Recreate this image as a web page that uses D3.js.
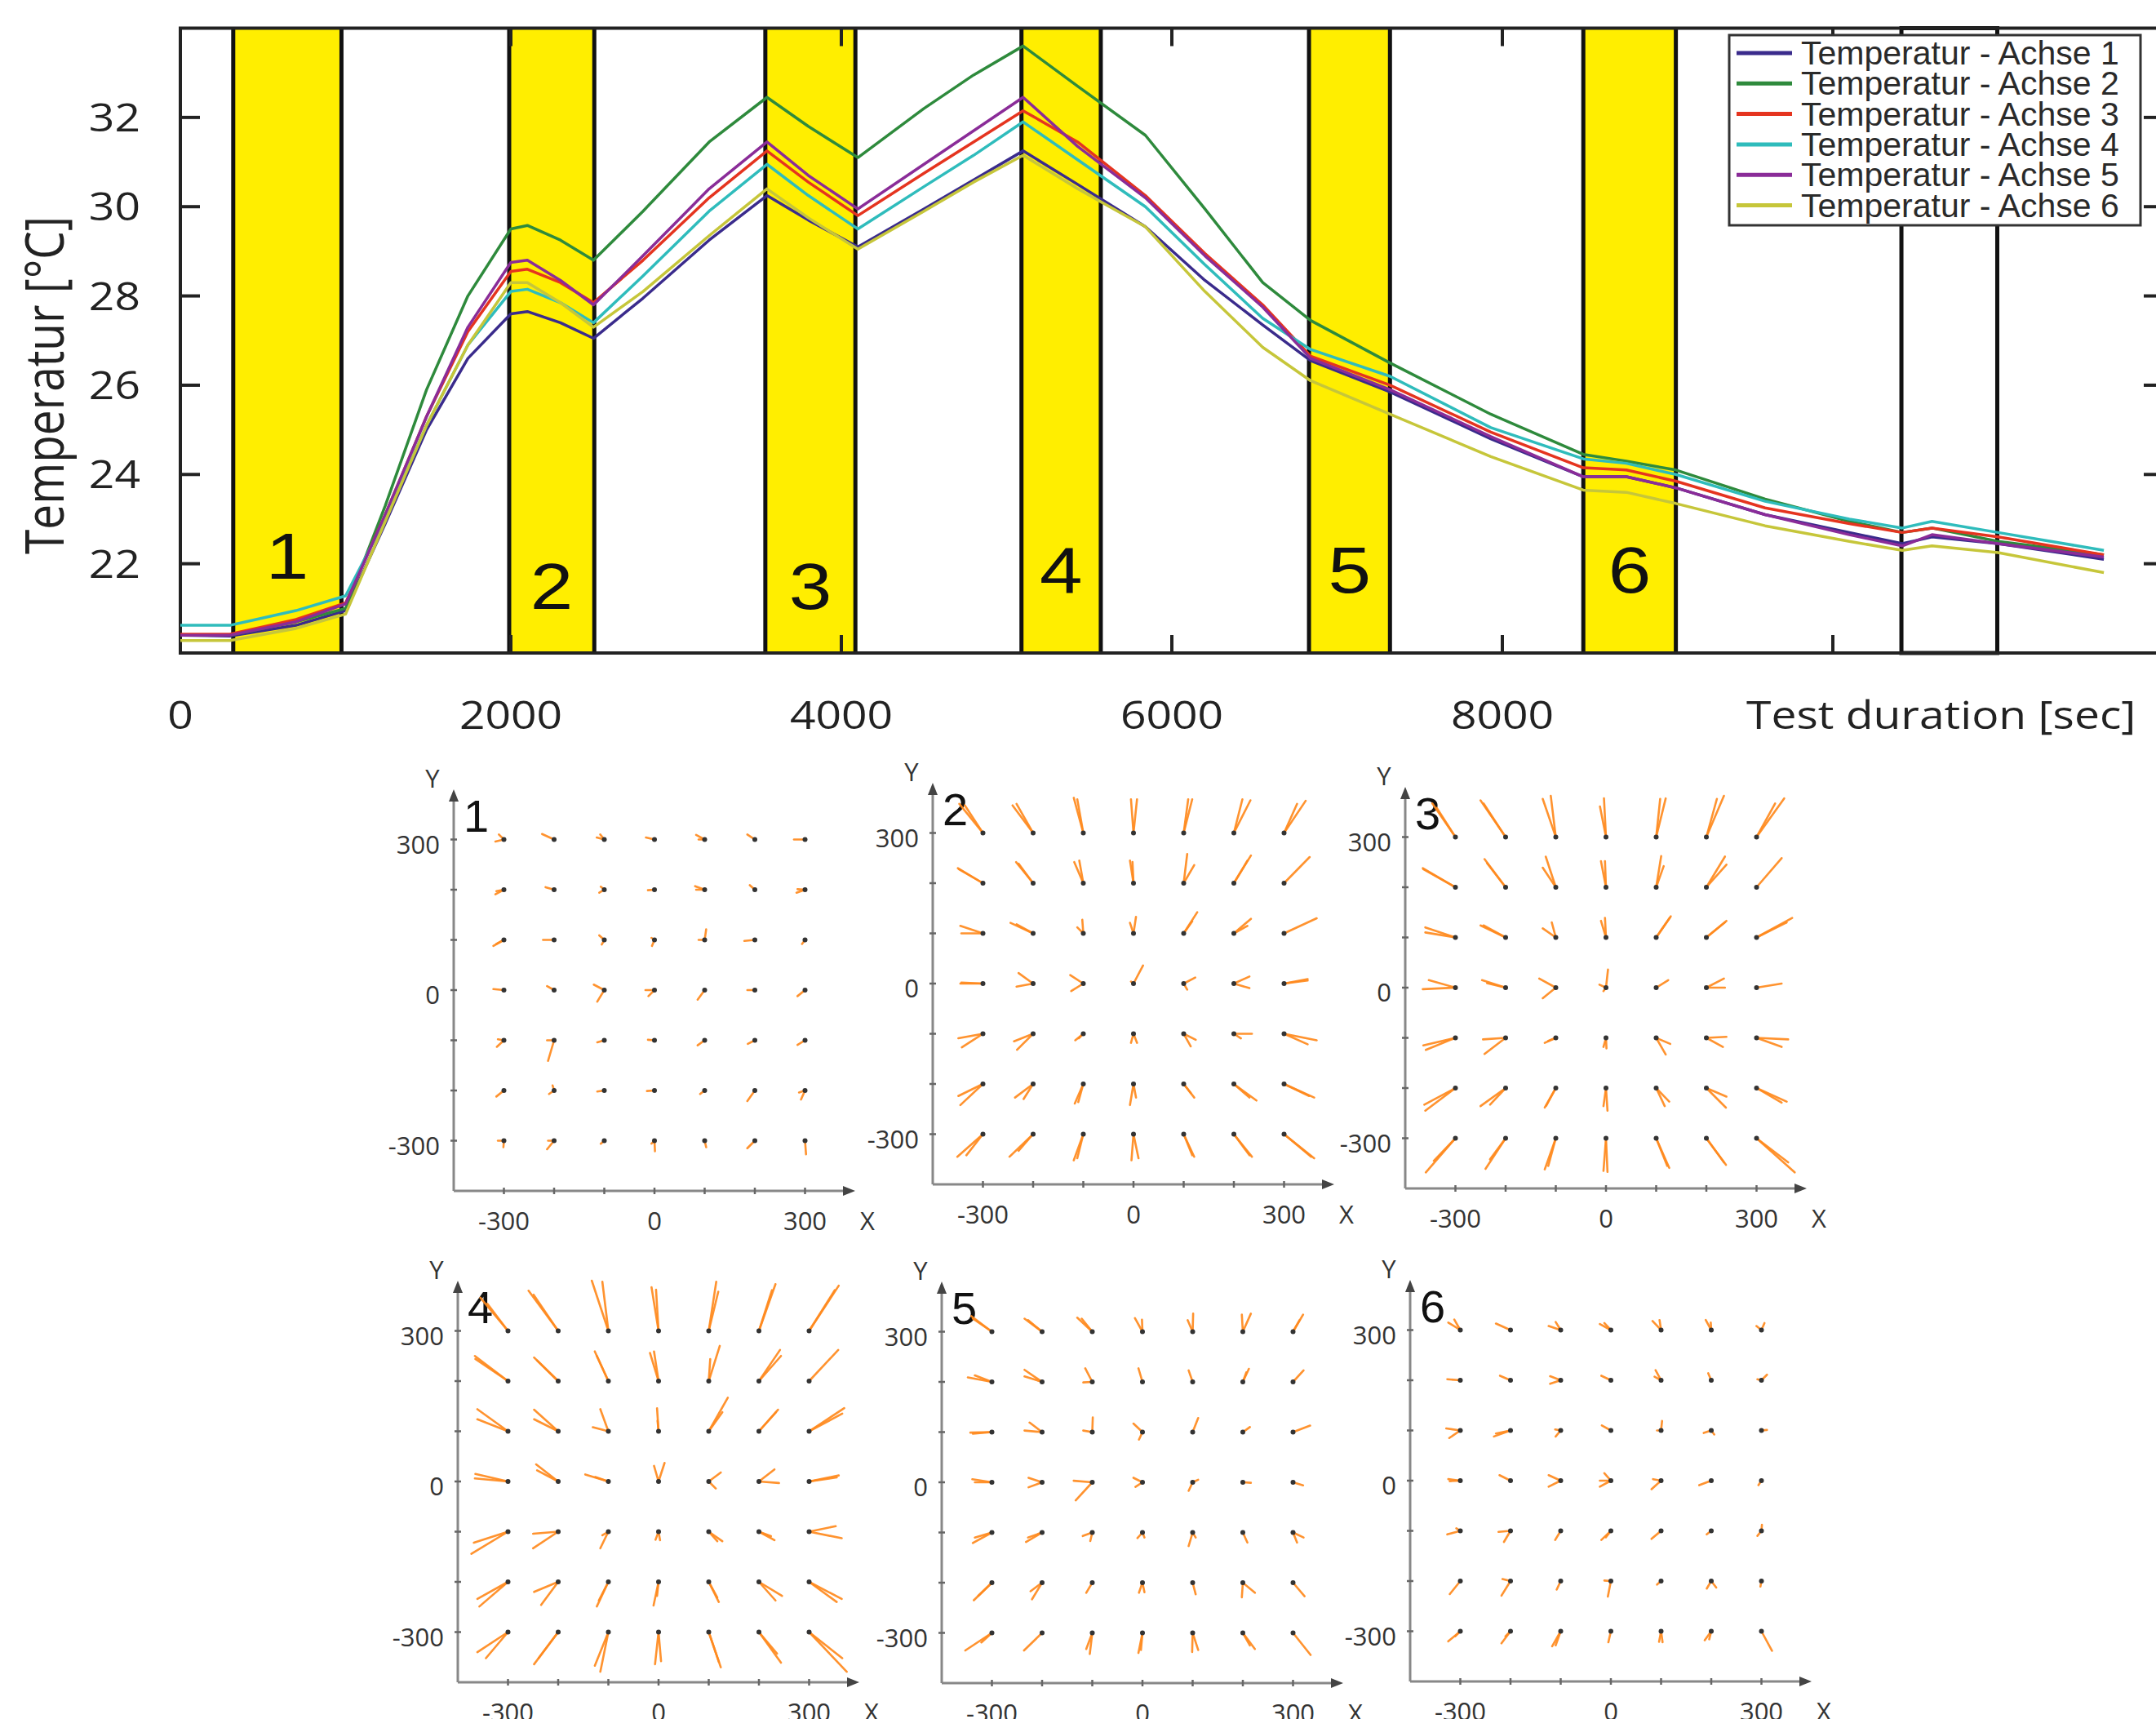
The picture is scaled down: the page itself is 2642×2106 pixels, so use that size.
<!DOCTYPE html>
<html>
<head>
<meta charset="utf-8">
<script src="https://cdn.jsdelivr.net/npm/d3@7"></script>
<style>
  body { margin: 0; background: #fff; }
  svg { display: block; background: #fff; }
</style>
</head>
<body>
<svg width="2642" height="2106"></svg>
<script>
// ---------- temperature chart data ----------
var timeKnots = [0, 300, 700, 1000, 1240, 1490, 1740, 2000, 2100, 2300, 2500, 2800, 3200, 3550, 3800, 4100, 4500, 4800, 5100,
                 5430, 5840, 6200, 6550, 6840, 7320, 7930, 8490, 8750, 9050, 9590, 10100, 10420, 10600, 11000, 11640];

var achse1 = [20.40, 20.38, 20.62, 20.95, 22.90, 25.00, 26.60, 27.60, 27.65, 27.40, 27.05, 27.95, 29.25, 30.25, 29.70, 29.10, 29.95, 30.60, 31.25,
              30.50, 29.55, 28.35, 27.35, 26.55, 25.85, 24.80, 23.95, 23.95, 23.70, 23.10, 22.70, 22.45, 22.60, 22.45, 22.10];
var achse2 = [20.40, 20.40, 20.70, 21.00, 23.30, 25.90, 28.00, 29.50, 29.58, 29.25, 28.80, 29.90, 31.45, 32.45, 31.80, 31.10, 32.20, 32.95, 33.60,
              32.70, 31.60, 29.95, 28.30, 27.45, 26.50, 25.35, 24.45, 24.30, 24.10, 23.45, 22.95, 22.70, 22.80, 22.50, 22.20];
var achse3 = [20.42, 20.42, 20.75, 21.12, 23.10, 25.30, 27.20, 28.55, 28.60, 28.30, 27.85, 28.80, 30.20, 31.25, 30.55, 29.80, 30.75, 31.45, 32.15,
              31.45, 30.25, 28.95, 27.80, 26.65, 26.00, 24.95, 24.15, 24.10, 23.85, 23.25, 22.90, 22.70, 22.80, 22.60, 22.20];
var achse4 = [20.62, 20.62, 20.95, 21.28, 23.00, 25.10, 26.90, 28.10, 28.15, 27.85, 27.40, 28.45, 29.90, 30.95, 30.25, 29.50, 30.45, 31.15, 31.90,
              31.05, 30.00, 28.70, 27.50, 26.80, 26.20, 25.05, 24.35, 24.25, 24.00, 23.40, 23.00, 22.80, 22.95, 22.70, 22.30];
var achse5 = [20.40, 20.40, 20.70, 21.10, 23.10, 25.30, 27.30, 28.75, 28.80, 28.35, 27.80, 28.90, 30.40, 31.45, 30.70, 29.95, 30.95, 31.70, 32.45,
              31.35, 30.20, 28.90, 27.75, 26.60, 25.90, 24.85, 23.95, 23.95, 23.70, 23.10, 22.65, 22.40, 22.65, 22.45, 22.15];
var achse6 = [20.28, 20.28, 20.55, 20.87, 22.95, 25.10, 26.90, 28.30, 28.30, 27.85, 27.30, 28.10, 29.35, 30.40, 29.75, 29.05, 29.90, 30.55, 31.15,
              30.40, 29.55, 28.10, 26.85, 26.10, 25.35, 24.40, 23.65, 23.60, 23.35, 22.85, 22.50, 22.30, 22.40, 22.25, 21.80];

var seriesNames = ["Temperatur - Achse 1", "Temperatur - Achse 2", "Temperatur - Achse 3",
                   "Temperatur - Achse 4", "Temperatur - Achse 5", "Temperatur - Achse 6"];
var seriesColors = ["#3a2b8c", "#2e8a3c", "#e5341f", "#2fbcbc", "#8a2c98", "#c6c63a"];

// measurement phases (sec)
var bandStart = [320, 1990, 3540, 5090, 6830, 8490];
var bandEnd = [975, 2505, 4085, 5570, 7320, 9050];
var bandLabels = ["1", "2", "3", "4", "5", "6"];
var bandLabelTemp = [21.66, 20.99, 20.99, 21.35, 21.35, 21.35];
var boxStart = 10415, boxEnd = 10995;

var xTicks = [0, 2000, 4000, 6000, 8000, 10000];
var xTickLabels = ["0", "2000", "4000", "6000", "8000", ""];
var yTicks = [22, 24, 26, 28, 30, 32];

// ---------- deformation panels: rows from y=300 down to y=-300, cols x=-300..300 ----------
var gridPos = [-300, -200, -100, 0, 100, 200, 300];
var panelTicks = [-300, 0, 300];

var panel1 = [
  [[[-17,-4],[-10,10]], [[-24,11]], [[-15,4],[-8,10]], [[-17,4]], [[-17,9],[-12,0]], [[-15,10]], [[-22,0]]],
  [[[-17,-9],[-15,-3]], [[-17,5]], [[-10,-6],[-7,6]], [[-13,-1]], [[-19,7],[-17,0]], [[-10,9]], [[-17,-6],[-15,1]]],
  [[[-21,-12],[-15,-8]], [[-22,0]], [[-10,9],[-5,-9]], [[-6,4],[-5,-12]], [[3,21],[-12,0]], [[-21,-2]], [[-6,-8]]],
  [[[-21,2]], [[-14,8]], [[-21,11],[-14,-23]], [[-18,0],[-12,-12]], [[-14,-19]], [[-15,0]], [[-15,-12]]],
  [[[-14,-13],[-12,2]], [[-12,-41],[-14,0]], [[-14,-4]], [[-13,1]], [[-14,-10]], [[-14,-7]], [[-15,-9]]],
  [[[-15,-12]], [[-10,-7],[-3,10]], [[-14,-2]], [[-15,-1]], [[-9,-7]], [[-15,-21]], [[-8,-18],[-12,-4]]],
  [[[-12,0],[-1,-13]], [[-14,-17],[-12,0]], [[-7,-6]], [[-6,-6],[1,-21]], [[3,-13]], [[-15,-15]], [[2,-27]]]
];
var panel2 = [
  [[[-47,58],[-36,55]], [[-41,55],[-33,58]], [[-19,70],[-12,67]], [[-5,67],[7,67]], [[9,67],[17,67]], [[17,67],[33,65]], [[26,58],[43,64]]],
  [[[-50,30],[-48,28]], [[-34,42],[-29,39]], [[-18,42],[-8,45]], [[-7,45],[-2,42]], [[7,58],[21,36]], [[34,55],[27,45]], [[51,52]]],
  [[[-45,15],[-43,0]], [[-45,21],[-33,18]], [[-12,12],[-2,27]], [[-7,21],[5,33]], [[27,42],[17,24]], [[34,29],[27,15]], [[65,30]]],
  [[[-45,0],[-43,2]], [[-29,21],[-33,-6]], [[-26,17],[-24,-15]], [[19,36],[-5,4]], [[23,12],[7,-12]], [[31,14],[31,-9]], [[47,9],[47,6]]],
  [[[-49,-9],[-42,-27]], [[-38,-15],[-32,-32]], [[-16,-13],[-9,-9]], [[-5,-18],[7,-18]], [[14,-25],[24,-12]], [[36,0],[14,-9]], [[65,-13],[47,-21]]],
  [[[-49,-24],[-45,-42]], [[-36,-27],[-19,-30]], [[-17,-39],[-10,-36]], [[-7,-42],[5,-27]], [[21,-27],[14,-18]], [[45,-33],[31,-27]], [[60,-27],[50,-24]]],
  [[[-51,-45],[-33,-42]], [[-47,-45],[-29,-33]], [[-19,-52],[-12,-48]], [[-4,-52],[10,-48]], [[21,-45],[17,-42]], [[36,-45],[31,-42]], [[60,-48],[54,-45]]]
];
var panel3 = [
  [[[-46,67],[-37,58]], [[-50,73],[-44,67]], [[-26,76],[-10,82]], [[-12,61],[-4,77]], [[8,76],[19,77]], [[21,76],[35,82]], [[37,67],[55,77]]],
  [[[-65,38],[-64,36]], [[-42,56],[-37,48]], [[-26,39],[-20,61]], [[-10,52],[-2,52]], [[10,62],[15,42]], [[37,61],[40,45]], [[50,58]]],
  [[[-60,20],[-60,10]], [[-50,24],[-44,24]], [[-26,18],[-8,30]], [[-10,33],[-2,39]], [[29,42],[27,39]], [[40,33],[37,30]], [[71,39],[60,30]]],
  [[[-65,-3],[-53,15]], [[-47,15],[-37,9]], [[-33,18],[-26,-21]], [[4,36],[-13,6],[-5,-7]], [[24,15]], [[35,18],[37,0]], [[50,8]]],
  [[[-64,-15],[-59,-24]], [[-45,-3],[-42,-32]], [[-22,-10],[-15,-6]], [[-5,-18],[1,-21]], [[19,-33],[28,-12]], [[40,2],[33,-18]], [[63,-3],[50,-18]]],
  [[[-62,-33],[-60,-45]], [[-50,-36],[-31,-33]], [[-22,-39],[-19,-35]], [[-5,-36],[3,-45]], [[17,-36],[26,-27]], [[39,-39],[40,-17]], [[60,-27],[50,-29]]],
  [[[-59,-68],[-43,-45]], [[-40,-61],[-31,-42]], [[-22,-62],[-15,-55]], [[-5,-65],[3,-67]], [[26,-59],[22,-55]], [[39,-53],[35,-48]], [[76,-68],[63,-48]]]
];
var panel4 = [
  [[[-55,66],[-41,54]], [[-59,80],[-49,72]], [[-33,100],[-12,98]], [[-14,87],[-5,82]], [[15,98],[19,78]], [[33,93],[26,81]], [[59,90],[51,81]]],
  [[[-66,50],[-65,44]], [[-48,47],[-42,41]], [[-27,59],[-23,50]], [[-17,56],[-9,59]], [[22,70],[3,44]], [[42,62],[44,50]], [[58,62]]],
  [[[-61,44],[-61,24]], [[-48,43],[-48,24]], [[-16,44],[-31,8]], [[-3,46],[-2,21]], [[38,67],[27,38]], [[38,43],[34,38]], [[70,46],[66,35]]],
  [[[-65,15],[-66,6]], [[-44,34],[-42,22]], [[-46,14],[-26,9]], [[12,37],[-9,31]], [[24,18],[14,-14]], [[31,24],[40,-3]], [[59,12],[55,8]]],
  [[[-73,-44],[-68,-22]], [[-50,-33],[-50,-4]], [[-16,-33],[-12,-7]], [[-6,-16],[3,-17]], [[27,-19],[17,-19]], [[31,-17],[24,-9]], [[65,-13],[53,11]]],
  [[[-61,-34],[-57,-49]], [[-48,-20],[-34,-46]], [[-23,-49],[-19,-37]], [[-10,-47],[-3,-28]], [[20,-40],[17,-31]], [[46,-28],[33,-37]], [[65,-34],[55,-40]]],
  [[[-61,-40],[-44,-52]], [[-48,-64],[-39,-52]], [[-27,-67],[-16,-79]], [[-7,-64],[5,-58]], [[24,-70],[20,-59]], [[44,-61],[36,-43]], [[75,-79],[66,-52]]]
];
var panel5 = [
  [[[-41,31],[-38,26]], [[-35,26],[-28,23]], [[-30,28],[-21,26]], [[-15,27],[-1,24]], [[-10,23],[1,36]], [[-2,34],[16,36]], [[20,34],[13,23]]],
  [[[-48,9],[-34,13]], [[-35,24],[-35,11]], [[-14,27],[-18,-1]], [[-8,27]], [[-8,23]], [[12,26],[7,19]], [[21,23]]],
  [[[-43,-1],[-38,-3]], [[-35,3],[-25,19]], [[-18,3],[1,29]], [[-18,17],[-7,-15]], [[11,28]], [[14,10]], [[34,13]]],
  [[[-39,6],[-34,0]], [[-27,9],[-27,-10]], [[-37,3],[-33,-36]], [[-18,9],[-14,-9]], [[-8,-17],[11,5]], [[16,-1]], [[20,-6]]],
  [[[-38,-21],[-34,-10]], [[-32,-19],[-28,-10]], [[-19,-7],[-4,-17]], [[-10,-11],[4,-10]], [[-8,-27],[6,-10]], [[9,-20]], [[8,-20],[21,-10]]],
  [[[-36,-35],[-27,-26]], [[-20,-33],[-23,-17]], [[-12,-20]], [[-7,-20],[4,-19]], [[6,-23]], [[-2,-29],[24,-20]], [[23,-27]]],
  [[[-53,-35],[-21,-19]], [[-36,-35]], [[-12,-32],[-5,-42]], [[-8,-40],[-3,-34]], [[-1,-38],[11,-34]], [[24,-32],[14,-25]], [[35,-44]]]
];
var panel6 = [
  [[[-24,15],[-12,21]], [[-29,13]], [[-24,8],[-10,16]], [[-22,12],[-13,14]], [[-17,18],[-3,20]], [[-11,20],[-1,15]], [[-10,8],[6,14]]],
  [[[-26,2]], [[-21,9]], [[-21,8],[-21,-7]], [[-19,9]], [[-11,20],[-13,7]], [[-6,14]], [[11,11],[-8,2]]],
  [[[-28,4],[-22,-15]], [[-33,-12],[-29,-6]], [[-11,2],[-10,-12]], [[-18,10]], [[2,19],[-8,0]], [[-15,-5],[6,-8]], [[11,1]]],
  [[[-24,3],[-21,-1]], [[-22,11]], [[-24,11],[-24,-12]], [[-22,-12],[-13,15],[-22,0]], [[-19,-17],[-16,3]], [[-24,-9]], [[-6,-9]]],
  [[[-26,-7],[-8,5]], [[-24,-2],[-13,-22]], [[-11,-18]], [[-19,-18],[-10,-13]], [[-19,-16]], [[-9,-7]], [[-8,-10],[1,12]]],
  [[[-21,-26]], [[-18,-29],[-16,4]], [[-8,-17]], [[-6,-31],[-13,1]], [[-8,-7]], [[-9,-15],[10,-13]], [[-2,-11]]],
  [[[-24,-20],[-10,-10]], [[-18,-24],[-10,-10]], [[-17,-30],[-10,-28]], [[-5,-22]], [[-4,-21],[3,-22]], [[-13,-18],[-4,-16]], [[21,-39]]]
];

var svg = d3.select("svg");

//Top chart scales
var x = d3.scaleLinear().domain([0, 12000]).range([221, 2651]);
var y = d3.scaleLinear().domain([20, 34]).range([800, 34.5]);

var chart = svg.append("g");

//yellow phases
bandStart.forEach(function (s, i) {
    chart.append("rect")
        .attr("x", x(s)).attr("y", y(34))
        .attr("width", x(bandEnd[i]) - x(s)).attr("height", y(20) - y(34))
        .attr("fill", "#ffee00");
    [s, bandEnd[i]].forEach(function (e) {
        chart.append("line")
            .attr("x1", x(e)).attr("x2", x(e))
            .attr("y1", y(34)).attr("y2", y(20))
            .attr("stroke", "#111").attr("stroke-width", 5);
    });
    chart.append("text")
        .attr("transform", "translate(" + x((s + bandEnd[i]) / 2) + "," + y(bandLabelTemp[i]) + ") scale(1.18,1)")
        .attr("text-anchor", "middle")
        .attr("font-family", "Liberation Sans, Arial, sans-serif")
        .attr("font-size", 80)
        .attr("fill", "#111")
        .text(bandLabels[i]);
});

//empty box at the end
chart.append("rect")
    .attr("x", x(boxStart)).attr("y", y(34))
    .attr("width", x(boxEnd) - x(boxStart)).attr("height", y(20) - y(34))
    .attr("fill", "none").attr("stroke", "#111").attr("stroke-width", 5);

//frame
chart.append("rect")
    .attr("x", x(0)).attr("y", y(34))
    .attr("width", x(12000) - x(0)).attr("height", y(20) - y(34))
    .attr("fill", "none").attr("stroke", "#222").attr("stroke-width", 4);

//ticks
yTicks.forEach(function (t) {
    chart.append("line").attr("x1", x(0)).attr("x2", x(0) + 24).attr("y1", y(t)).attr("y2", y(t))
        .attr("stroke", "#222").attr("stroke-width", 4);
    chart.append("line").attr("x1", x(12000) - 24).attr("x2", x(12000)).attr("y1", y(t)).attr("y2", y(t))
        .attr("stroke", "#222").attr("stroke-width", 4);
    chart.append("text")
        .attr("transform", "translate(172," + (y(t) + 17) + ") scale(1.15,1)")
        .attr("text-anchor", "end")
        .attr("font-family", "Open Sans, sans-serif")
        .attr("font-size", 48)
        .attr("fill", "#222")
        .text(t);
});
xTicks.forEach(function (t, i) {
    chart.append("line").attr("x1", x(t)).attr("x2", x(t)).attr("y1", y(34)).attr("y2", y(34) + 22)
        .attr("stroke", "#222").attr("stroke-width", 4);
    chart.append("line").attr("x1", x(t)).attr("x2", x(t)).attr("y1", y(20)).attr("y2", y(20) - 22)
        .attr("stroke", "#222").attr("stroke-width", 4);
    chart.append("text")
        .attr("transform", "translate(" + x(t) + ",893) scale(1.15,1)")
        .attr("text-anchor", "middle")
        .attr("font-family", "Open Sans, sans-serif")
        .attr("font-size", 48)
        .attr("fill", "#222")
        .text(xTickLabels[i]);
});

//temperature lines
var line = d3.line()
    .x(function (d, i) { return x(timeKnots[i]); })
    .y(function (d) { return y(d); });

[achse1, achse2, achse3, achse4, achse5, achse6].forEach(function (s, i) {
    chart.append("path")
        .datum(s)
        .attr("d", line)
        .attr("fill", "none")
        .attr("stroke", seriesColors[i])
        .attr("stroke-width", 3.5)
        .attr("stroke-linejoin", "round");
});

//axis titles
chart.append("text")
    .attr("transform", "translate(2140,893) scale(1.15,1)")
    .attr("font-family", "Open Sans, sans-serif")
    .attr("font-size", 48)
    .attr("fill", "#222")
    .text("Test duration [sec]");
chart.append("text")
    .attr("transform", "translate(78,472) scale(1.2,1) rotate(-90)")
    .attr("text-anchor", "middle")
    .attr("font-family", "Open Sans, sans-serif")
    .attr("font-size", 55)
    .attr("fill", "#222")
    .text("Temperatur [°C]");

//legend
var legend = chart.append("g").attr("transform", "translate(2119,43)");
legend.append("rect")
    .attr("width", 504).attr("height", 233)
    .attr("fill", "#fff").attr("stroke", "#333").attr("stroke-width", 3);
seriesNames.forEach(function (n, i) {
    var ly = 22 + i * 37.3;
    legend.append("line")
        .attr("x1", 9).attr("x2", 77).attr("y1", ly).attr("y2", ly)
        .attr("stroke", seriesColors[i]).attr("stroke-width", 5);
    legend.append("text")
        .attr("x", 88).attr("y", ly + 14)
        .attr("font-family", "Liberation Sans, Arial, sans-serif")
        .attr("font-size", 41)
        .attr("fill", "#2a2a2a")
        .text(n);
});

//deformation panels
function drawPanel(vectors, left, bottom, num) {
    var px = d3.scaleLinear().domain([-400, 400]).range([left, left + 492]);
    var py = d3.scaleLinear().domain([-400, 400]).range([bottom, bottom - 492]);
    var g = svg.append("g");

    g.append("line").attr("x1", px(-400)).attr("y1", py(-400)).attr("x2", px(-400)).attr("y2", py(400) + 10)
        .attr("stroke", "#888").attr("stroke-width", 3);
    g.append("line").attr("x1", px(-400)).attr("y1", py(-400)).attr("x2", px(400) - 10).attr("y2", py(-400))
        .attr("stroke", "#888").attr("stroke-width", 3);
    g.append("path")
        .attr("d", "M" + px(-400) + "," + py(400) + " l-6,15 l12,0 z")
        .attr("fill", "#444");
    g.append("path")
        .attr("d", "M" + px(400) + "," + py(-400) + " l-15,-6 l0,12 z")
        .attr("fill", "#444");

    gridPos.forEach(function (v) {
        g.append("line").attr("x1", px(v)).attr("x2", px(v)).attr("y1", py(-400) - 4).attr("y2", py(-400) + 4)
            .attr("stroke", "#666").attr("stroke-width", 2.5);
        g.append("line").attr("x1", px(-400) - 4).attr("x2", px(-400) + 4).attr("y1", py(v)).attr("y2", py(v))
            .attr("stroke", "#666").attr("stroke-width", 2.5);
    });

    panelTicks.forEach(function (v) {
        g.append("text").attr("x", px(v)).attr("y", py(-400) + 48)
            .attr("text-anchor", "middle")
            .attr("font-family", "Open Sans, sans-serif").attr("font-size", 31).attr("fill", "#333")
            .text(v);
        g.append("text").attr("x", px(-400) - 17).attr("y", py(v) + 17)
            .attr("text-anchor", "end")
            .attr("font-family", "Open Sans, sans-serif").attr("font-size", 31).attr("fill", "#333")
            .text(v);
    });
    g.append("text").attr("x", px(400) + 6).attr("y", py(-400) + 48)
        .attr("font-family", "Open Sans, sans-serif").attr("font-size", 31).attr("fill", "#333").text("X");
    g.append("text").attr("x", px(-400) - 26).attr("y", py(400) - 2)
        .attr("text-anchor", "middle")
        .attr("font-family", "Open Sans, sans-serif").attr("font-size", 31).attr("fill", "#333").text("Y");
    g.append("text").attr("x", px(-400) + 12).attr("y", py(400) + 52)
        .attr("font-family", "Liberation Sans, Arial, sans-serif").attr("font-size", 56).attr("fill", "#111").text(num);

    vectors.forEach(function (row, r) {
        var gy = gridPos[6 - r];
        row.forEach(function (vecs, c) {
            var gx = gridPos[c];
            vecs.forEach(function (v) {
                g.append("line")
                    .attr("x1", px(gx)).attr("y1", py(gy))
                    .attr("x2", px(gx + v[0])).attr("y2", py(gy + v[1]))
                    .attr("stroke", "#ff8a1e").attr("stroke-width", 2.6)
                    .attr("stroke-linecap", "round").attr("opacity", 0.92);
            });
        });
    });
    vectors.forEach(function (row, r) {
        row.forEach(function (vecs, c) {
            g.append("circle").attr("cx", px(gridPos[c])).attr("cy", py(gridPos[6 - r])).attr("r", 3)
                .attr("fill", "#333");
        });
    });
}

drawPanel(panel1, 556, 1459, "1");
drawPanel(panel2, 1143, 1451, "2");
drawPanel(panel3, 1722, 1456, "3");
drawPanel(panel4, 561, 2061, "4");
drawPanel(panel5, 1154, 2062, "5");
drawPanel(panel6, 1728, 2060, "6");
</script>
</body>
</html>
